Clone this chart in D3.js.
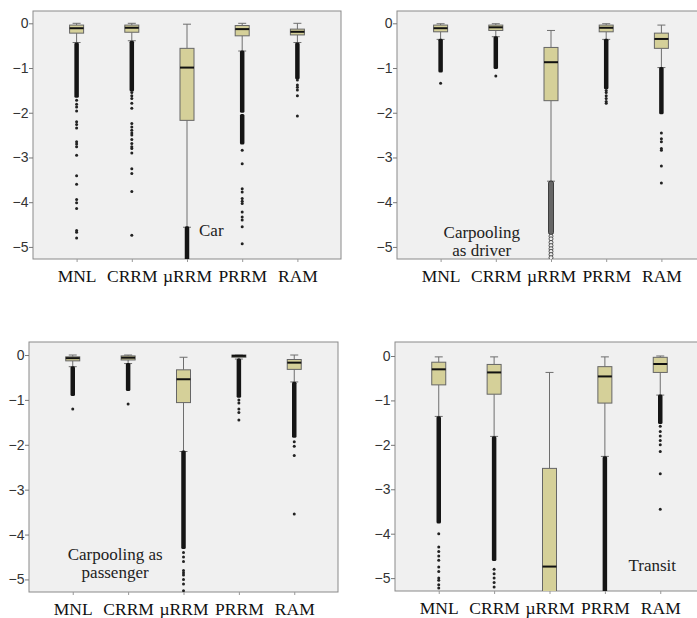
<!DOCTYPE html>
<html>
<head>
<meta charset="utf-8">
<script src="https://cdn.jsdelivr.net/npm/d3@7"></script>
<style>
  body { margin: 0; background: #fff; }
  svg { display: block; }
</style>
</head>
<body>
<svg id="chart" width="697" height="618"></svg>
<script>
// model names along the x axis
var models = ["MNL", "CRRM", "\u00b5RRM", "PRRM", "RAM"];
var yTicks = [0, -1, -2, -3, -4, -5];

// box stats per model: [whisker top, Q3, median, Q1, whisker bottom]
var carBoxes = [
  [0, -0.04, -0.11, -0.22, -0.43],
  [0, -0.04, -0.10, -0.20, -0.39],
  [-0.02, -0.56, -0.99, -2.17, -4.56],
  [0, -0.05, -0.13, -0.28, -0.62],
  [0, -0.13, -0.19, -0.26, -0.43]
];
// ranges where outliers are packed into a solid column
var carDense = [
  [[-0.45, -1.64]],
  [[-0.41, -1.50]],
  [[-4.56, -5.40]],
  [[-0.63, -1.98], [-2.05, -2.69]],
  [[-0.45, -1.23]]
];
var carOutliers = [
  [-1.72, -1.81, -1.87, -1.96, -2.2, -2.26, -2.34, -2.65, -2.7, -2.76, -2.95, -3.41, -3.6, -3.94, -4.01, -4.14, -4.63, -4.67, -4.8],
  [-1.55, -1.62, -1.68, -1.79, -1.9, -2.24, -2.32, -2.39, -2.45, -2.5, -2.6, -2.69, -2.76, -2.8, -2.9, -3.25, -3.36, -3.76, -4.74],
  [],
  [-2.84, -3.14, -3.7, -3.77, -3.92, -3.98, -4.03, -4.22, -4.33, -4.4, -4.55, -4.93],
  [-1.27, -1.38, -1.43, -1.49, -1.62, -2.07]
];

var driverBoxes = [
  [-0.01, -0.04, -0.11, -0.19, -0.36],
  [-0.01, -0.04, -0.09, -0.16, -0.30],
  [-0.16, -0.54, -0.87, -1.73, -3.53],
  [-0.01, -0.04, -0.10, -0.19, -0.36],
  [-0.04, -0.22, -0.35, -0.56, -0.99]
];
var driverDense = [
  [[-0.37, -1.08]],
  [[-0.31, -1.00]],
  [],
  [[-0.37, -1.45]],
  [[-1.00, -2.01]]
];
var driverOutliers = [
  [-1.34],
  [-1.18],
  [],
  [-1.5, -1.55, -1.62, -1.68, -1.75, -1.79],
  [-2.45, -2.58, -2.65, -2.8, -2.84, -3.19, -3.57]
];
// open circles (extreme cases) under the driver uRRM box
var driverExtremeDense = [[], [], [[-3.55, -4.70]], [], []];
var driverExtremes = [[], [], [-4.76, -4.82, -4.9, -4.97, -5.04, -5.1, -5.17, -5.24], [], []];

var passBoxes = [
  [0, -0.04, -0.07, -0.13, -0.26],
  [0, -0.02, -0.06, -0.11, -0.19],
  [-0.05, -0.33, -0.54, -1.06, -2.15],
  [0, 0, -0.02, -0.05, -0.09],
  [0, -0.10, -0.17, -0.32, -0.60]
];
var passDense = [
  [[-0.27, -0.89]],
  [[-0.20, -0.78]],
  [[-2.15, -4.30]],
  [[-0.10, -0.93]],
  [[-0.62, -1.82]]
];
var passOutliers = [
  [-1.2],
  [-1.09],
  [-4.4, -4.5, -4.6, -4.8, -4.85, -4.9, -5.0, -5.1, -5.25],
  [-1.0, -1.07, -1.2, -1.28, -1.45],
  [-1.93, -2.03, -2.24, -3.54]
];

var transitBoxes = [
  [-0.02, -0.14, -0.30, -0.65, -1.36],
  [-0.02, -0.19, -0.37, -0.86, -1.81],
  [-0.37, -2.53, -4.74, -5.60, -5.60],
  [-0.02, -0.24, -0.46, -1.06, -2.26],
  [0, -0.03, -0.18, -0.37, -0.88]
];
var transitDense = [
  [[-1.38, -3.75]],
  [[-1.83, -4.59]],
  [],
  [[-2.28, -5.40]],
  [[-0.89, -1.51]]
];
var transitOutliers = [
  [-4.0, -4.3, -4.4, -4.5, -4.6, -4.75, -4.85, -5.0, -5.05, -5.15, -5.22],
  [-4.8, -4.9, -5.0, -5.1, -5.2],
  [],
  [],
  [-1.58, -1.7, -1.8, -1.9, -2.0, -2.15, -2.65, -3.45]
];

var panelLabels = [
  ["Car"],
  ["Carpooling", "as driver"],
  ["Carpooling as", "passenger"],
  ["Transit"]
];

var svg = d3.select("#chart");

var panels = [
  { left: 33, top: 11, w: 308, h: 248, dom: [0.275, -5.27], boxes: carBoxes, dense: carDense, outl: carOutliers,
    label: panelLabels[0], lx: ["\u00b5RRM", 12], ly: -4.76, anchor: "start" },
  { left: 397, top: 11, w: 308, h: 248, dom: [0.275, -5.27], boxes: driverBoxes, dense: driverDense, outl: driverOutliers,
    exDense: driverExtremeDense, ex: driverExtremes,
    label: panelLabels[1], lx: ["CRRM", -14], ly: -4.8, anchor: "middle" },
  { left: 29, top: 342, w: 309, h: 250, dom: [0.29, -5.28], boxes: passBoxes, dense: passDense, outl: passOutliers,
    label: panelLabels[2], lx: ["CRRM", -13], ly: -4.57, anchor: "middle" },
  { left: 395, top: 342, w: 309, h: 249, dom: [0.315, -5.29], boxes: transitBoxes, dense: transitDense, outl: transitOutliers,
    label: panelLabels[3], lx: ["RAM", -8], ly: -4.84, anchor: "middle" }
];

var boxFill = "#d5d099";

panels.forEach(function(p, i) {
  var x = d3.scalePoint().domain(models).range([p.left, p.left + p.w]).padding(0.79);
  var y = d3.scaleLinear().domain(p.dom).range([p.top, p.top + p.h]);
  var g = svg.append("g");

  g.append("clipPath").attr("id", "clip" + i)
    .append("rect").attr("x", p.left).attr("y", p.top).attr("width", p.w).attr("height", p.h);

  // panel background + frame
  g.append("rect")
    .attr("x", p.left).attr("y", p.top).attr("width", p.w).attr("height", p.h)
    .attr("fill", "#f0f0f0").attr("stroke", "#8a8a8a").attr("stroke-width", 1);

  // y axis
  var yAxis = d3.axisLeft(y).tickValues(yTicks).tickSize(4).tickFormat(d3.format("d"));
  var ya = g.append("g").attr("transform", "translate(" + p.left + ",0)").call(yAxis);
  ya.select(".domain").remove();
  ya.selectAll(".tick line").attr("stroke", "#777");
  ya.selectAll(".tick text")
    .attr("x", -4.5)
    .attr("font-family", "'Liberation Sans', Arial, sans-serif")
    .attr("font-size", 14).attr("fill", "#333");

  // x axis (category names)
  var xAxis = d3.axisBottom(x).tickSize(3).tickPadding(8);
  var xa = g.append("g").attr("transform", "translate(0," + (p.top + p.h) + ")").call(xAxis);
  xa.select(".domain").remove();
  xa.selectAll(".tick line").attr("stroke", "#999");
  xa.selectAll(".tick text")
    .attr("font-family", "'Liberation Serif', 'Times New Roman', serif")
    .attr("font-size", 17.5).attr("fill", "#111");

  var plot = g.append("g").attr("clip-path", "url(#clip" + i + ")");

  models.forEach(function(m, k) {
    var b = p.boxes[k];
    var cx = x(m);
    var bw = 14, cw = 8;
    var grp = plot.append("g");

    // whiskers
    grp.append("line").attr("x1", cx).attr("x2", cx).attr("y1", y(b[0])).attr("y2", y(b[1]))
      .attr("stroke", "#6e6e6e").attr("stroke-width", 1);
    grp.append("line").attr("x1", cx).attr("x2", cx).attr("y1", y(b[3])).attr("y2", y(b[4]))
      .attr("stroke", "#6e6e6e").attr("stroke-width", 1);
    grp.append("line").attr("x1", cx - cw / 2).attr("x2", cx + cw / 2).attr("y1", y(b[0])).attr("y2", y(b[0]))
      .attr("stroke", "#6e6e6e").attr("stroke-width", 1);
    grp.append("line").attr("x1", cx - cw / 2).attr("x2", cx + cw / 2).attr("y1", y(b[4])).attr("y2", y(b[4]))
      .attr("stroke", "#6e6e6e").attr("stroke-width", 1);

    // box
    grp.append("rect")
      .attr("x", cx - bw / 2).attr("width", bw)
      .attr("y", y(b[1])).attr("height", Math.max(1.5, y(b[3]) - y(b[1])))
      .attr("fill", boxFill).attr("stroke", "#666").attr("stroke-width", 1);
    grp.append("line").attr("x1", cx - bw / 2).attr("x2", cx + bw / 2).attr("y1", y(b[2])).attr("y2", y(b[2]))
      .attr("stroke", "#111").attr("stroke-width", 2);

    // packed outlier columns
    grp.selectAll("rect.dense").data(p.dense[k]).enter().append("rect")
      .attr("class", "dense")
      .attr("x", cx - 2.25).attr("width", 4.5)
      .attr("y", function(d) { return y(d[0]) - 1; })
      .attr("height", function(d) { return y(d[1]) - y(d[0]) + 2; })
      .attr("rx", 1.5)
      .attr("fill", "#151515");

    // single outliers (small dots)
    grp.selectAll("circle.out").data(p.outl[k]).enter().append("circle")
      .attr("class", "out")
      .attr("cx", cx).attr("cy", function(d) { return y(d); })
      .attr("r", 1.5)
      .attr("fill", "#222");

    // extremes drawn as open circles
    if (p.exDense) {
      grp.selectAll("rect.exd").data(p.exDense[k]).enter().append("rect")
        .attr("class", "exd")
        .attr("x", cx - 2.5).attr("width", 5)
        .attr("y", function(d) { return y(d[0]) - 1; })
        .attr("height", function(d) { return y(d[1]) - y(d[0]) + 2; })
        .attr("rx", 2)
        .attr("fill", "#666").attr("stroke", "#222").attr("stroke-width", 0.8);
      grp.selectAll("circle.ex").data(p.ex[k]).enter().append("circle")
        .attr("class", "ex")
        .attr("cx", cx).attr("cy", function(d) { return y(d); })
        .attr("r", 2)
        .attr("stroke", "#333").attr("stroke-width", 0.8).attr("fill", "#eee");
    }
  });

  // mode label inside the panel
  var t = g.append("text")
    .attr("x", x(p.lx[0]) + p.lx[1])
    .attr("y", y(p.ly))
    .attr("text-anchor", p.anchor)
    .attr("font-family", "'Liberation Serif', 'Times New Roman', serif")
    .attr("font-size", 17).attr("fill", "#222");
  p.label.forEach(function(line, j) {
    t.append("tspan").attr("x", x(p.lx[0]) + p.lx[1]).attr("dy", j === 0 ? 0 : 18).text(line);
  });
});
</script>
</body>
</html>
